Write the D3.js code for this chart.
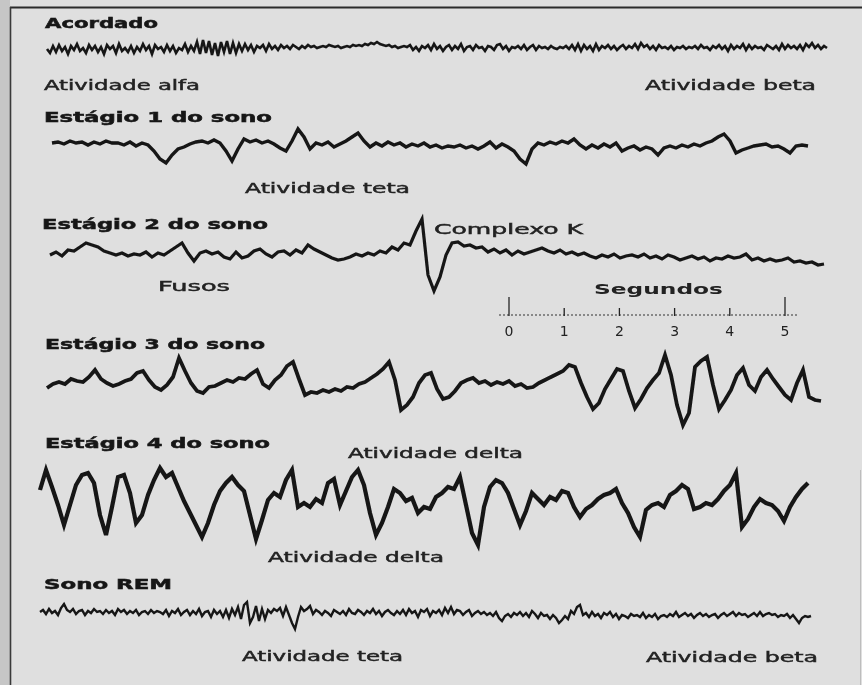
<!DOCTYPE html>
<html>
<head>
<meta charset="utf-8">
<script src="https://cdn.jsdelivr.net/npm/d3@7"></script>
<style>
  body { margin: 0; background: #dfdfdf; }
  svg { display: block; }
</style>
</head>
<body>
<svg id="eeg"></svg>
<script>
// amplitude samples (positive = up), evenly spaced in time
var acordado = [-1,-5,2,-4,3,-3,1,-6,2,-2, 4,-3,0,-5,3,-2,2,-4,1,-6, 3,-1,2,-5,4,-3,0,-4,2,-5,
  1,-3,4,-2,2,-6,3,-1,1,-4, 3,-3,2,-5,0,-2,4,-4,2,-3,
  6,-6,8,-5,7,-7,5,-8,6,-4,7,-6,5,-5,4,
  -3,4,-2,3,-4,2,0,3,-3,4,-1,2,-2,3,0,2,-1,3,1,-1,2,0,3,1,2,0,1,2,1,3,
  2,1,2,0,1,2,1,3,2,3,2,4,3,5,4,6,4,3,2,3,1,2,0,1,2,1,
  3,-2,1,-3,2,0,3,-2,4,-1, 2,-3,1,3,-2,2,-1,4,-3,1, 2,-2,3,0,1,-3,2,1,-2,3,
  4,-1,2,-3,1,0,2,-1,3,-2, 1,3,-2,2,0,1,-1,2,0,-1, 1,0,2,-1,3,-2,4,-3,3,-1,
  2,-3,4,-2,2,0,3,-1,2,-2, 1,3,-1,2,0,4,-1,5,1,3, -1,2,-2,3,0,1,-1,2,-2,1,
  0,2,-1,1,0,2,-1,3,0,1, -2,2,0,3,-1,2,-3,3,-1,2, 0,4,-2,3,-1,2,0,1,-2,3,
  1,-1,2,-2,4,-1,3,0,2,-1, 3,-2,4,1,5,0,3,-1,2,0];

var estagio1 = [2,3,1,4,2,3,0,3,1,4,2,2,0,3,-1,2,0,
  -6,-14,-18,-10,-4,-2,1,3,4,2,5,2,-6,-16,-4,6,3,5,2,4,1,-3,-6,4,16,8,-4,2,0,3,-2,1,4,8,12,4,
  -2,2,-1,3,0,2,-2,1,-1,2,-2,0,-3,-1,-2,0,-3,-1,-4,-1,3,-3,1,-2,-6,-14,-19,-4,2,0,3,1,4,2,6,
  0,-4,0,-3,1,-2,2,-6,-3,-1,-5,-2,-4,-10,-3,-1,-3,0,-2,1,-1,2,4,8,11,4,-8,-5,-3,-1,0,1,-2,-1,-4,-8,-1,0,-1];

var estagio2 = [0,3,-1,5,4,8,12,10,8,4,2,0,2,-1,1,0,3,-2,2,0,4,8,12,2,-6,2,4,1,3,-2,-4,3,-3,-1,4,6,1,-2,3,4,
  0,5,2,10,6,3,0,-3,-5,-4,-2,1,-1,2,0,4,2,8,5,12,
  10,24,36,-20,-36,-22,0,12,13,
  9,10,7,8,3,6,2,5,0,4,1,3,5,7,4,2,5,1,3,0,2,-1,-3,0,-2,1,-3,-1,0,-2,1,-3,-1,-4,0,-2,-5,-3,-1,-4,-2,-6,-3,-4,-1,-3,-2,1,-5,-3,-6,-4,-6,-5,-3,-7,-6,-8,-7,-10,-9];

var estagio3 = [-3,1,3,1,6,4,3,8,15,6,2,-1,1,4,6,12,14,5,-2,-5,0,8,27,14,2,-6,-8,-2,-1,2,5,3,7,6,11,15,1,-3,5,10,
  19,23,6,-10,-7,-8,-5,-7,-4,-6,-2,-3,1,3,7,11,16,23,5,-25,-20,-12,2,10,12,-4,-14,-12,-6,2,
  5,7,2,4,0,3,1,4,-1,1,-3,-2,2,5,8,11,14,20,18,2,-12,-24,-18,-4,6,16,14,-6,-23,-14,
  -3,5,12,30,10,-20,-40,-28,18,24,28,0,-24,-15,-5,10,17,0,-6,8,15,6,-2,-10,-15,2,15,-12,-15,-16];

var estagio4 = [5,25,8,-10,-30,-10,10,20,22,12,-20,-40,-12,18,20,2,-28,-20,0,15,27,18,22,8,-6,-18,-30,-42,-28,-10,
  4,12,18,10,4,-20,-44,-25,-5,2,-2,15,25,-12,-8,-12,-4,-8,12,16,-10,4,18,25,10,-18,-40,-28,-12,6,
  2,-6,-3,-18,-12,-14,-2,2,8,6,18,-10,-38,-50,-12,8,15,12,2,-14,-30,-16,2,-4,-10,-2,-5,4,2,-12,
  -22,-14,-10,-4,0,2,6,-8,-18,-32,-42,-15,-10,-8,-12,0,4,10,6,-14,-12,-8,-10,-4,4,10,22,-32,-24,-12,
  -4,-8,-10,-16,-26,-12,-2,6,12];

var rem = [1,3,-1,4,0,2,-2,5,9,3, 1,4,-1,2,3,-2,2,0,4,1, 2,-1,3,0,2,-2,4,1,3,-1,
  2,0,3,-2,1,2,-1,3,0,2, 1,-1,3,-3,2,0,4,-2,1,3, -2,2,-1,4,-3,1,2,-4,3,-1,
  2,-4,3,-5,4,-2,6,-6,8,11,-10,-4,7,-8,4,-6,3,0,4,2, 5,-3,6,-2,-10,-16,-4,6,2,4,
  7,-1,3,1,-2,2,0,-3,3,1, -1,2,-2,4,0,-1,3,1,-2,2, 0,4,-1,2,-3,1,3,0,-2,2,
  -1,3,-2,4,0,2,-4,3,1,4, -3,2,0,3,-2,5,0,6,-1,3, 2,-2,1,3,-3,0,2,-1,1,-2,
  0,-3,1,-5,-8,-3,-1,-4,0,-2, 1,-3,0,-4,2,-1,-5,0,-3,-2, -6,-2,-5,-10,-7,-3,-6,2,-1,6,
  8,-2,0,-4,1,-3,-1,-5,0,-2, 1,-4,-1,-6,-2,-3,-5,-1,-3,-2, -4,0,-5,-2,-4,-1,-6,-3,-2,-4,
  -1,-3,1,-4,-2,0,-3,-1,-5,-2, 0,-3,-1,-4,-2,-1,-5,-2,0,-3, -1,1,-3,0,-2,-1,-4,-2,0,-3,
  1,-3,-1,0,-2,-1,-4,-2,-3,-1,-5,-2,-6,-10,-5,-3,-4,-3];

var stageNames = ["Acordado", "Estágio 1 do sono", "Estágio 2 do sono",
                  "Estágio 3 do sono", "Estágio 4 do sono", "Sono REM"];
var notes = ["Atividade alfa", "Atividade beta", "Atividade teta", "Fusos", "Complexo K",
             "Atividade delta", "Atividade delta", "Atividade teta", "Atividade beta"];
var seconds = [0, 1, 2, 3, 4, 5];

var width = 862, height = 685;

var svg = d3.select("#eeg")
    .attr("width", width)
    .attr("height", height);

var defs = svg.append("defs");
defs.append("filter").attr("id", "scan")
  .append("feGaussianBlur").attr("stdDeviation", 0.45);

svg.append("rect")
    .attr("width", width)
    .attr("height", height)
    .attr("fill", "#dfdfdf");

// scanner strip on the left
svg.append("rect")
    .attr("x", 0).attr("y", 0)
    .attr("width", 10).attr("height", height)
    .attr("fill", "#c6c6c6");

// frame
svg.append("line")
    .attr("x1", 10).attr("x2", width).attr("y1", 7.5).attr("y2", 7.5)
    .attr("stroke", "#2b2b2b").attr("stroke-width", 2);
svg.append("line")
    .attr("x1", 10.5).attr("x2", 10.5).attr("y1", 7).attr("y2", height)
    .attr("stroke", "#3a3a3a").attr("stroke-width", 1.6);
svg.append("line")
    .attr("x1", 860.5).attr("x2", 860.5).attr("y1", 470).attr("y2", height)
    .attr("stroke", "#bdbdbd").attr("stroke-width", 1);

var g = svg.append("g").attr("filter", "url(#scan)");

// one trace per row
var rows = [
  {data: acordado,  x0: 47, x1: 827, cy: 48,  w: 2.6},
  {data: estagio1,  x0: 52, x1: 808, cy: 145, w: 3.4},
  {data: estagio2,  x0: 50, x1: 824, cy: 255, w: 3.2},
  {data: estagio3,  x0: 47, x1: 821, cy: 385, w: 3.8},
  {data: estagio4,  x0: 40, x1: 808, cy: 495, w: 4.2},
  {data: rem,       x0: 40, x1: 811, cy: 613, w: 2.4}
];

var amp = d3.scaleLinear().domain([-50, 50]).range([50, -50]);

rows.forEach(function(row) {
  var x = d3.scaleLinear()
      .domain([0, row.data.length - 1])
      .range([row.x0, row.x1]);
  var line = d3.line()
      .x(function(d, i) { return x(i); })
      .y(function(d) { return amp(d); });
  g.append("path")
      .datum(row.data)
      .attr("transform", "translate(0," + row.cy + ")")
      .attr("d", line)
      .attr("fill", "none")
      .attr("stroke", "#151515")
      .attr("stroke-width", row.w)
      .attr("stroke-linejoin", "miter");
});

// titles of each row
var titlePos = [
  {x: 45, y: 28, w: 113},
  {x: 44, y: 122, w: 228},
  {x: 42, y: 229, w: 226},
  {x: 45, y: 349, w: 220},
  {x: 45, y: 448, w: 225},
  {x: 44, y: 589, w: 128}
];
g.selectAll("text.title")
  .data(stageNames)
  .enter().append("text")
    .attr("class", "title")
    .attr("x", function(d, i) { return titlePos[i].x; })
    .attr("y", function(d, i) { return titlePos[i].y; })
    .attr("textLength", function(d, i) { return titlePos[i].w; })
    .attr("lengthAdjust", "spacingAndGlyphs")
    .style("font-family", "DejaVu Sans, sans-serif")
    .style("font-weight", "bold")
    .style("font-size", "14px")
    .style("fill", "#151515")
    .style("stroke", "#151515")
    .style("stroke-width", 0.5)
    .text(function(d) { return d; });

var notePos = [
  {x: 44, y: 90, w: 156},
  {x: 645, y: 90, w: 171},
  {x: 245, y: 193, w: 165},
  {x: 158, y: 291, w: 72},
  {x: 434, y: 234, w: 149},
  {x: 348, y: 458, w: 175},
  {x: 268, y: 562, w: 176},
  {x: 242, y: 661, w: 161},
  {x: 646, y: 662, w: 172}
];
g.selectAll("text.note")
  .data(notes)
  .enter().append("text")
    .attr("class", "note")
    .attr("x", function(d, i) { return notePos[i].x; })
    .attr("y", function(d, i) { return notePos[i].y; })
    .attr("textLength", function(d, i) { return notePos[i].w; })
    .attr("lengthAdjust", "spacingAndGlyphs")
    .style("font-family", "DejaVu Sans, sans-serif")
    .style("font-size", "14px")
    .style("fill", "#222")
    .style("stroke", "#222")
    .style("stroke-width", 0.45)
    .text(function(d) { return d; });

// time scale bar
var t = d3.scaleLinear().domain([0, 5]).range([509, 785]);
var scaleY = 315;

g.append("text")
    .attr("x", 594).attr("y", 294)
    .attr("textLength", 129)
    .attr("lengthAdjust", "spacingAndGlyphs")
    .style("font-family", "DejaVu Sans, sans-serif")
    .style("font-weight", "bold")
    .style("font-size", "14px")
    .style("fill", "#222")
    .text("Segundos");

g.append("line")
    .attr("x1", t(0) - 10).attr("x2", t(5) + 14)
    .attr("y1", scaleY).attr("y2", scaleY)
    .attr("stroke", "#333")
    .attr("stroke-width", 1.2)
    .attr("stroke-dasharray", "2,2");

g.selectAll("line.tick")
  .data(seconds)
  .enter().append("line")
    .attr("class", "tick")
    .attr("x1", function(d) { return t(d); })
    .attr("x2", function(d) { return t(d); })
    .attr("y1", function(d) { return (d === 0 || d === 5) ? scaleY - 18 : scaleY - 7; })
    .attr("y2", scaleY + 1)
    .attr("stroke", "#222")
    .attr("stroke-width", 1.3);

g.selectAll("text.sec")
  .data(seconds)
  .enter().append("text")
    .attr("class", "sec")
    .attr("x", function(d) { return t(d); })
    .attr("y", 336)
    .attr("text-anchor", "middle")
    .style("font-family", "DejaVu Sans, sans-serif")
    .style("font-size", "14px")
    .style("fill", "#222")
    .text(function(d) { return d; });
</script>
</body>
</html>
